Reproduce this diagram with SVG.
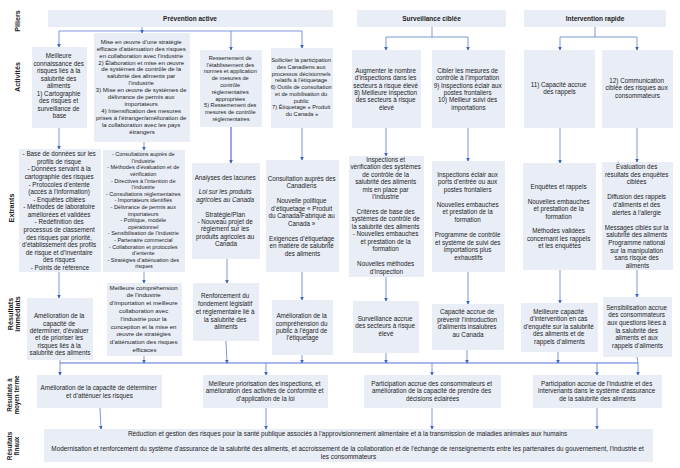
<svg xmlns="http://www.w3.org/2000/svg" width="680" height="468" viewBox="0 0 680 468">
<defs>
<marker id="ah" viewBox="0 0 6 6" refX="5" refY="3" markerWidth="4" markerHeight="4" orient="auto" markerUnits="userSpaceOnUse"><path d="M0,0 L6,3 L0,6 z" fill="#3f66c4"/></marker>
<style>
.box{fill:#e8edf6}
.t{font-family:"Liberation Sans",Arial,sans-serif;font-size:6.3px;fill:#1c1c1c;text-anchor:middle}
.s60{font-size:6.0px}.s56{font-size:5.6px}.s57{font-size:5.7px}.s55{font-size:5.5px}.s61{font-size:6.1px}.s64{font-size:6.4px}
.b{font-weight:bold}
.pl{font-size:6.5px}
.it{font-style:italic}
.lab{font-family:"Liberation Sans",Arial,sans-serif;font-weight:bold;fill:#1c1c1c;text-anchor:middle;font-size:7.2px}
.lab2{font-family:"Liberation Sans",Arial,sans-serif;font-weight:bold;fill:#1c1c1c;text-anchor:middle;font-size:6.3px}
.c{fill:none;stroke:#5a7fcf;stroke-width:0.8}
.ca{fill:none;stroke:#5a7fcf;stroke-width:0.8;marker-end:url(#ah)}
.cb{fill:none;stroke:#2b4ff0;stroke-width:1;marker-end:url(#ah)}
.bus{fill:none;stroke:#5572d6;stroke-width:1.2}
</style>
</defs>
<rect width="680" height="468" fill="#ffffff"/>

<g id="labels">
<text class="lab" transform="translate(19.5,21) rotate(-90)">Piliers</text>
<text class="lab" transform="translate(19.5,77) rotate(-90)">Activités</text>
<text class="lab" transform="translate(14,208) rotate(-90)">Extrants</text>
<text class="lab" transform="translate(12.5,314) rotate(-90)">Résultats</text>
<text class="lab" transform="translate(20,314) rotate(-90)">immédiats</text>
<text class="lab2" transform="translate(12,395) rotate(-90)">Résultats à</text>
<text class="lab2" transform="translate(19,395) rotate(-90)">moyen terme</text>
<text class="lab2" transform="translate(12,446) rotate(-90)">Résultats</text>
<text class="lab2" transform="translate(19,446) rotate(-90)">finaux</text>
</g>

<g id="connectors">
<path class="c" d="M59,31 H302"/>
<path class="ca" d="M142,27 V33"/>
<path class="ca" d="M59,31 V47"/>
<path class="ca" d="M231,31 V50"/>
<path class="ca" d="M302,31 V48"/>
<path class="c" d="M432,27 V37 M386,37 H468"/>
<path class="ca" d="M386,37 V50"/>
<path class="ca" d="M468,37 V50"/>
<path class="c" d="M595,27 V37 M560,37 H637"/>
<path class="ca" d="M560,37 V50"/>
<path class="ca" d="M637,37 V50"/>

<path class="ca" d="M59,128 V149"/>
<path class="ca" d="M144,142 V150"/>
<path class="cb" d="M231,127 V163"/>
<path class="ca" d="M302,128 V160"/>
<path class="ca" d="M386,128 V156"/>
<path class="ca" d="M468,128 V161"/>
<path class="ca" d="M560,128 V163"/>
<path class="ca" d="M637,128 V162"/>

<path class="ca" d="M59,272 V298"/>
<path class="ca" d="M144,272 V283"/>
<path class="ca" d="M227,259 V283"/>
<path class="ca" d="M302,272 V300"/>
<path class="ca" d="M386,277 V301"/>
<path class="ca" d="M468,272 V304"/>
<path class="ca" d="M560,270 V303"/>
<path class="ca" d="M637,270 V297"/>

<path class="c" d="M60,360 V363"/>
<path class="ca" d="M144,356 V363"/>
<path class="ca" d="M226,341 L227,363"/>
<path class="ca" d="M302,355 V363"/>
<path class="ca" d="M386,353 V363"/>
<path class="ca" d="M467,350 V363"/>
<path class="ca" d="M558,352 V363"/>
<path class="c" d="M637,357 L638,363"/>
<path class="bus" d="M60,363 H638"/>

<path class="ca" d="M60,363 V375"/>
<path class="ca" d="M266,363 V375"/>
<path class="ca" d="M432,363 V375"/>
<path class="ca" d="M597,363 V375"/>
<path class="ca" d="M638,363 V375"/>

<path class="ca" d="M100,408 L101,429"/>
<path class="ca" d="M266,408 V429"/>
<path class="ca" d="M432,408 V429"/>
<path class="ca" d="M597,408 V429"/>
</g>

<g id="pillar-prevention">
<rect class="box" x="48" y="10" width="285" height="17"/>
<text class="t b pl" x="190" y="21">Prévention active</text>
</g>
<g id="pillar-surveillance">
<rect class="box" x="357" y="10" width="149" height="17"/>
<text class="t b pl" x="431.5" y="21">Surveillance ciblée</text>
</g>
<g id="pillar-intervention">
<rect class="box" x="524" y="10" width="142" height="17"/>
<text class="t b pl" x="595" y="21">Intervention rapide</text>
</g>

<g id="act1">
<rect class="box" x="32" y="47" width="55" height="81"/>
<text class="t">
<tspan x="59.5" y="58.2">Meilleure</tspan>
<tspan x="59.5" y="65.7">connaissance des</tspan>
<tspan x="59.5" y="73.2">risques liés à la</tspan>
<tspan x="59.5" y="80.7">salubrité des</tspan>
<tspan x="59.5" y="88.2">aliments</tspan>
<tspan x="59.5" y="95.7">1) Cartographie</tspan>
<tspan x="59.5" y="103.2">des risques et</tspan>
<tspan x="59.5" y="110.7">surveillance de</tspan>
<tspan x="59.5" y="118.2">base</tspan>
</text>
</g>
<g id="act2">
<rect class="box" x="94" y="33" width="96" height="109"/>
<text class="t s60">
<tspan x="142" y="43.8">Mise en œuvre d’une stratégie</tspan>
<tspan x="142" y="50.7">efficace d’atténuation des risques</tspan>
<tspan x="142" y="57.6">en collaboration avec l’industrie</tspan>
<tspan x="142" y="64.5">2) Élaboration et mise en œuvre</tspan>
<tspan x="142" y="71.4">de systèmes de contrôle de la</tspan>
<tspan x="142" y="78.3">salubrité des aliments par</tspan>
<tspan x="142" y="85.2">l’industrie</tspan>
<tspan x="142" y="92.1">3) Mise en œuvre de systèmes de</tspan>
<tspan x="142" y="99">délivrance de permis aux</tspan>
<tspan x="142" y="105.9">importateurs</tspan>
<tspan x="142" y="112.8">4) Intensification des mesures</tspan>
<tspan x="142" y="119.7">prises à l’étranger/amélioration de</tspan>
<tspan x="142" y="126.6">la collaboration avec les pays</tspan>
<tspan x="142" y="133.5">étrangers</tspan>
</text>
</g>
<g id="act3">
<rect class="box" x="200" y="50" width="62" height="77"/>
<text class="t s56">
<tspan x="231" y="59.8">Resserrement de</tspan>
<tspan x="231" y="66.6">l’établissement des</tspan>
<tspan x="231" y="73.4">normes et application</tspan>
<tspan x="231" y="80.2">de mesures de</tspan>
<tspan x="231" y="87">contrôle</tspan>
<tspan x="231" y="93.8">réglementaires</tspan>
<tspan x="231" y="100.6">appropriées</tspan>
<tspan x="231" y="107.4">5) Resserrement des</tspan>
<tspan x="231" y="114.2">mesures de contrôle</tspan>
<tspan x="231" y="121">réglementaires</tspan>
</text>
</g>
<g id="act4">
<rect class="box" x="271" y="48" width="62" height="80"/>
<text class="t s57">
<tspan x="302" y="62">Solliciter la participation</tspan>
<tspan x="302" y="68.75">des Canadiens aux</tspan>
<tspan x="302" y="75.5">processus décisionnels</tspan>
<tspan x="302" y="82.25">relatifs à l’étiquetage</tspan>
<tspan x="302" y="89">6) Outils de consultation</tspan>
<tspan x="302" y="95.75">et de mobilisation du</tspan>
<tspan x="302" y="102.5">public</tspan>
<tspan x="302" y="109.25">7) Étiquetage « Produit</tspan>
<tspan x="302" y="116">du Canada »</tspan>
</text>
</g>
<g id="act5">
<rect class="box" x="352" y="50" width="69" height="78"/>
<text class="t">
<tspan x="386.5" y="73">Augmenter le nombre</tspan>
<tspan x="386.5" y="80.3">d’inspections dans les</tspan>
<tspan x="386.5" y="87.6">secteurs à risque élevé</tspan>
<tspan x="386.5" y="94.9">8) Meilleure inspection</tspan>
<tspan x="386.5" y="102.2">des secteurs à risque</tspan>
<tspan x="386.5" y="109.5">élevé</tspan>
</text>
</g>
<g id="act6">
<rect class="box" x="432" y="50" width="73" height="78"/>
<text class="t">
<tspan x="468.5" y="73">Cibler les mesures de</tspan>
<tspan x="468.5" y="80.3">contrôle à l’importation</tspan>
<tspan x="468.5" y="87.6">9) Inspections éclair aux</tspan>
<tspan x="468.5" y="94.9">postes frontaliers</tspan>
<tspan x="468.5" y="102.2">10) Meilleur suivi des</tspan>
<tspan x="468.5" y="109.5">importations</tspan>
</text>
</g>
<g id="act7">
<rect class="box" x="524" y="50" width="71" height="78"/>
<text class="t">
<tspan x="559.5" y="86.6">11) Capacité accrue</tspan>
<tspan x="559.5" y="93.9">des rappels</tspan>
</text>
</g>
<g id="act8">
<rect class="box" x="602" y="50" width="71" height="78"/>
<text class="t">
<tspan x="637.5" y="82.9">12) Communication</tspan>
<tspan x="637.5" y="90.2">ciblée des risques aux</tspan>
<tspan x="637.5" y="97.5">consommateurs</tspan>
</text>
</g>

<g id="out1">
<rect class="box" x="19" y="149" width="82" height="123"/>
<text class="t">
<tspan x="60" y="156.2">- Base de données sur les</tspan>
<tspan x="60" y="163.8">profils de risque</tspan>
<tspan x="60" y="171.4">- Données servant à la</tspan>
<tspan x="60" y="178.9">cartographie des risques</tspan>
<tspan x="60" y="186.5">- Protocoles d’entente</tspan>
<tspan x="60" y="194.1">(accès à l’information)</tspan>
<tspan x="60" y="201.7">- Enquêtes ciblées</tspan>
<tspan x="60" y="209.3">- Méthodes de laboratoire</tspan>
<tspan x="60" y="216.8">améliorées et validées</tspan>
<tspan x="60" y="224.4">- Redéfinition des</tspan>
<tspan x="60" y="232">processus de classement</tspan>
<tspan x="60" y="239.6">des risques par priorité,</tspan>
<tspan x="60" y="247.2">d’établissement des profils</tspan>
<tspan x="60" y="254.7">de risque et d’inventaire</tspan>
<tspan x="60" y="262.3">des risques</tspan>
<tspan x="60" y="269.9">- Points de référence</tspan>
</text>
</g>
<g id="out2">
<rect class="box" x="103" y="150" width="82" height="122"/>
<text class="t s55">
<tspan x="144" y="156.2">- Consultations auprès de</tspan>
<tspan x="144" y="162.8">l’industrie</tspan>
<tspan x="144" y="169.4">- Méthodes d’évaluation et de</tspan>
<tspan x="144" y="176">vérification</tspan>
<tspan x="144" y="182.6">- Directives à l’intention de</tspan>
<tspan x="144" y="189.2">l’industrie</tspan>
<tspan x="144" y="195.8">- Consultations réglementaires</tspan>
<tspan x="144" y="202.4">- Importateurs identifiés</tspan>
<tspan x="144" y="209">- Délivrance de permis aux</tspan>
<tspan x="144" y="215.6">importateurs</tspan>
<tspan x="144" y="222.2">- Politique, modèle</tspan>
<tspan x="144" y="228.8">opérationnel</tspan>
<tspan x="144" y="235.4">- Sensibilisation de l’industrie</tspan>
<tspan x="144" y="242">- Partenaire commercial</tspan>
<tspan x="144" y="248.6">- Collaboration et protocoles</tspan>
<tspan x="144" y="255.2">d’entente</tspan>
<tspan x="144" y="261.8">- Stratégies d’atténuation des</tspan>
<tspan x="144" y="268.4">risques</tspan>
</text>
</g>
<g id="out3">
<rect class="box" x="192" y="163" width="68" height="96"/>
<text class="t">
<tspan x="226" y="179.5">Analyses des lacunes</tspan>
<tspan x="226" y="194.3" class="it">Loi sur les produits</tspan>
<tspan x="226" y="201.7" class="it">agricoles au Canada</tspan>
<tspan x="226" y="216.5">Stratégie/Plan</tspan>
<tspan x="226" y="223.9">- Nouveau projet de</tspan>
<tspan x="226" y="231.3">règlement sur les</tspan>
<tspan x="226" y="238.7">produits agricoles au</tspan>
<tspan x="226" y="246.1">Canada</tspan>
</text>
</g>
<g id="out4">
<rect class="box" x="266" y="160" width="73" height="112"/>
<text class="t">
<tspan x="302.5" y="180.5">Consultation auprès des</tspan>
<tspan x="302.5" y="188">Canadiens</tspan>
<tspan x="302.5" y="203">Nouvelle politique</tspan>
<tspan x="302.5" y="210.5">d’étiquetage « Produit</tspan>
<tspan x="302.5" y="218">du Canada/Fabriqué au</tspan>
<tspan x="302.5" y="225.5">Canada »</tspan>
<tspan x="302.5" y="240.5">Exigences d’étiquetage</tspan>
<tspan x="302.5" y="248">en matière de salubrité</tspan>
<tspan x="302.5" y="255.5">des aliments</tspan>
</text>
</g>
<g id="out5">
<rect class="box" x="349" y="156" width="75" height="121"/>
<text class="t">
<tspan x="386.5" y="161.5">Inspections et</tspan>
<tspan x="386.5" y="169">vérification des systèmes</tspan>
<tspan x="386.5" y="176.5">de contrôle de la</tspan>
<tspan x="386.5" y="184">salubrité des aliments</tspan>
<tspan x="386.5" y="191.5">mis en place par</tspan>
<tspan x="386.5" y="199">l’industrie</tspan>
<tspan x="386.5" y="213.9">Critères de base des</tspan>
<tspan x="386.5" y="221.4">systèmes de contrôle de</tspan>
<tspan x="386.5" y="228.9">la salubrité des aliments</tspan>
<tspan x="386.5" y="236.4">- Nouvelles embauches</tspan>
<tspan x="386.5" y="243.9">et prestation de la</tspan>
<tspan x="386.5" y="251.4">formation</tspan>
<tspan x="386.5" y="266.4">Nouvelles méthodes</tspan>
<tspan x="386.5" y="273.9">d’inspection</tspan>
</text>
</g>
<g id="out6">
<rect class="box" x="432" y="161" width="73" height="111"/>
<text class="t">
<tspan x="468.5" y="176.5">Inspections éclair aux</tspan>
<tspan x="468.5" y="184.1">ports d’entrée ou aux</tspan>
<tspan x="468.5" y="191.7">postes frontaliers</tspan>
<tspan x="468.5" y="206.8">Nouvelles embauches</tspan>
<tspan x="468.5" y="214.4">et prestation de la</tspan>
<tspan x="468.5" y="222">formation</tspan>
<tspan x="468.5" y="237.1">Programme de contrôle</tspan>
<tspan x="468.5" y="244.7">et système de suivi des</tspan>
<tspan x="468.5" y="252.3">importations plus</tspan>
<tspan x="468.5" y="259.9">exhaustifs</tspan>
</text>
</g>
<g id="out7">
<rect class="box" x="523" y="163" width="73" height="107"/>
<text class="t">
<tspan x="559.5" y="188.9">Enquêtes et rappels</tspan>
<tspan x="559.5" y="203.7">Nouvelles embauches</tspan>
<tspan x="559.5" y="211.1">et prestation de la</tspan>
<tspan x="559.5" y="218.5">formation</tspan>
<tspan x="559.5" y="233.3">Méthodes validées</tspan>
<tspan x="559.5" y="240.7">concernant les rappels</tspan>
<tspan x="559.5" y="248.1">et les enquêtes</tspan>
</text>
</g>
<g id="out8">
<rect class="box" x="602" y="162" width="71" height="108"/>
<text class="t">
<tspan x="637.5" y="168.9">Évaluation des</tspan>
<tspan x="637.5" y="176.5">résultats des enquêtes</tspan>
<tspan x="637.5" y="184.1">ciblées</tspan>
<tspan x="637.5" y="199.3">Diffusion des rappels</tspan>
<tspan x="637.5" y="206.9">d’aliments et des</tspan>
<tspan x="637.5" y="214.5">alertes à l’allergie</tspan>
<tspan x="637.5" y="229.7">Messages ciblés sur la</tspan>
<tspan x="637.5" y="237.3">salubrité des aliments</tspan>
<tspan x="637.5" y="244.9">Programme national</tspan>
<tspan x="637.5" y="252.5">sur la manipulation</tspan>
<tspan x="637.5" y="260.1">sans risque des</tspan>
<tspan x="637.5" y="267.7">aliments</tspan>
</text>
</g>

<g id="res1">
<rect class="box" x="27" y="298" width="66" height="62"/>
<text class="t">
<tspan x="60" y="318.2">Amélioration de la</tspan>
<tspan x="60" y="325.6">capacité de</tspan>
<tspan x="60" y="333">déterminer, d’évaluer</tspan>
<tspan x="60" y="340.4">et de prioriser les</tspan>
<tspan x="60" y="347.8">risques liés à la</tspan>
<tspan x="60" y="355.2">salubrité des aliments</tspan>
</text>
</g>
<g id="res2">
<rect class="box" x="107" y="283" width="75" height="73"/>
<text class="t s61">
<tspan x="144.5" y="289.6">Meilleure compréhension</tspan>
<tspan x="144.5" y="297.4">de l’industrie</tspan>
<tspan x="144.5" y="305.2">d’importation et meilleure</tspan>
<tspan x="144.5" y="313">collaboration avec</tspan>
<tspan x="144.5" y="320.8">l’industrie pour la</tspan>
<tspan x="144.5" y="328.6">conception et la mise en</tspan>
<tspan x="144.5" y="336.4">œuvre de stratégies</tspan>
<tspan x="144.5" y="344.2">d’atténuation des risques</tspan>
<tspan x="144.5" y="352">efficaces</tspan>
</text>
</g>
<g id="res3">
<rect class="box" x="193" y="283" width="66" height="58"/>
<text class="t">
<tspan x="226" y="298.2">Renforcement du</tspan>
<tspan x="226" y="306">fondement législatif</tspan>
<tspan x="226" y="313.8">et réglementaire lié à</tspan>
<tspan x="226" y="321.6">la salubrité des</tspan>
<tspan x="226" y="329.4">aliments</tspan>
</text>
</g>
<g id="res4">
<rect class="box" x="272" y="300" width="61" height="55"/>
<text class="t">
<tspan x="302.5" y="318.2">Amélioration de la</tspan>
<tspan x="302.5" y="325.6">compréhension du</tspan>
<tspan x="302.5" y="333">public à l’égard de</tspan>
<tspan x="302.5" y="340.4">l’étiquetage</tspan>
</text>
</g>
<g id="res5">
<rect class="box" x="353" y="301" width="66" height="52"/>
<text class="t">
<tspan x="386" y="320.5">Surveillance accrue</tspan>
<tspan x="386" y="328.1">des secteurs à risque</tspan>
<tspan x="386" y="335.7">élevé</tspan>
</text>
</g>
<g id="res6">
<rect class="box" x="432" y="304" width="72" height="46"/>
<text class="t">
<tspan x="468" y="313.9">Capacité accrue de</tspan>
<tspan x="468" y="321.6">prévenir l’introduction</tspan>
<tspan x="468" y="329.3">d’aliments insalubres</tspan>
<tspan x="468" y="337">au Canada</tspan>
</text>
</g>
<g id="res7">
<rect class="box" x="521" y="303" width="77" height="49"/>
<text class="t">
<tspan x="559.5" y="313.9">Meilleure capacité</tspan>
<tspan x="559.5" y="321.4">d’intervention en cas</tspan>
<tspan x="559.5" y="328.9">d’enquête sur la salubrité</tspan>
<tspan x="559.5" y="336.4">des aliments et de</tspan>
<tspan x="559.5" y="343.9">rappels d’aliments</tspan>
</text>
</g>
<g id="res8">
<rect class="box" x="603" y="297" width="69" height="60"/>
<text class="t">
<tspan x="637.5" y="309.5">Sensibilisation accrue</tspan>
<tspan x="637.5" y="317.2">des consommateurs</tspan>
<tspan x="637.5" y="324.9">aux questions liées à</tspan>
<tspan x="637.5" y="332.6">la salubrité des</tspan>
<tspan x="637.5" y="340.3">aliments et aux</tspan>
<tspan x="637.5" y="348">rappels d’aliments</tspan>
</text>
</g>

<g id="mid1">
<rect class="box" x="37" y="375" width="125" height="33"/>
<text class="t">
<tspan x="99.5" y="390.2">Amélioration de la capacité de déterminer</tspan>
<tspan x="99.5" y="397.6">et d’atténuer les risques</tspan>
</text>
</g>
<g id="mid2">
<rect class="box" x="203" y="375" width="125" height="33"/>
<text class="t">
<tspan x="265.5" y="385.5">Meilleure priorisation des inspections, et</tspan>
<tspan x="265.5" y="393">amélioration des activités de conformité et</tspan>
<tspan x="265.5" y="400.5">d’application de la loi</tspan>
</text>
</g>
<g id="mid3">
<rect class="box" x="364" y="375" width="137" height="33"/>
<text class="t">
<tspan x="432.5" y="385.5">Participation accrue des consommateurs et</tspan>
<tspan x="432.5" y="393">amélioration de la capacité de prendre des</tspan>
<tspan x="432.5" y="400.5">décisions éclairées</tspan>
</text>
</g>
<g id="mid4">
<rect class="box" x="533" y="375" width="129" height="33"/>
<text class="t">
<tspan x="597.5" y="385.5">Participation accrue de l’industrie et des</tspan>
<tspan x="597.5" y="393">intervenants dans le système d’assurance</tspan>
<tspan x="597.5" y="400.5">de la salubrité des aliments</tspan>
</text>
</g>

<g id="final">
<rect class="box" x="44" y="429" width="609" height="33"/>
<text class="t s64">
<tspan x="348.5" y="436.2">Réduction et gestion des risques pour la santé publique associés à l’approvisionnement alimentaire et à la transmission de maladies animales aux humains</tspan>
<tspan x="348.5" y="451.2">Modernisation et renforcement du système d’assurance de la salubrité des aliments, et accroissement de la collaboration et de l’échange de renseignements entre les partenaires du gouvernement, l’industrie et</tspan>
<tspan x="348.5" y="458.9">les consommateurs</tspan>
</text>
</g>
</svg>
